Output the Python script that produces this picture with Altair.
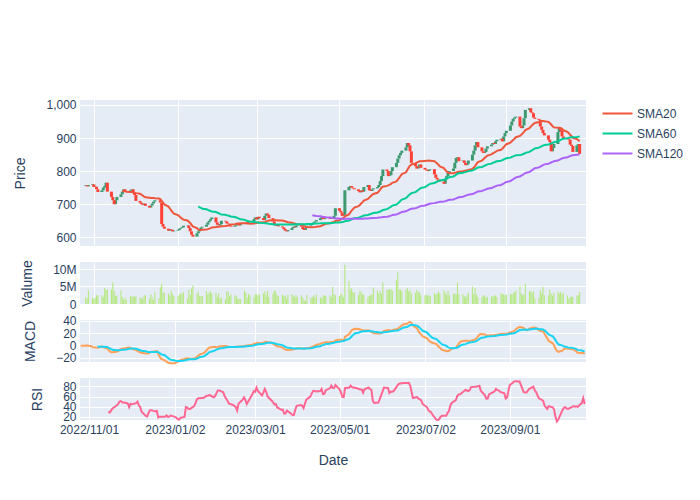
import altair as alt
import pandas as pd

# ---------------- data ----------------
start_date = "2022-10-26"
end_date = "2023-10-25"
first_open = 755

close = [
    757, 754, 758,
    760, 752, 753, 745, 737,
    742, 750, 755, 765, 738,
    722, 712, 700, 712, 722,
    730, 738, 745, 740, 738,
    742, 745, 735, 728, 710,
    705, 700, 698, 702, 695,
    690, 696, 702, 708, 712,
    712, 705, 640, 632, 626,
    620, 624, 622, 618, 620,
    622, 626, 628, 630, 635,
    636, 628, 618, 608, 602,
    612, 618, 625, 630, 632,
    638, 645, 650, 655, 660,
    645, 638, 636, 640, 650,
    648, 642, 640, 635, 632,
    635, 638, 640, 636, 640,
    642, 645, 643, 646, 648,
    655, 660, 654, 662, 658,
    652, 665, 672, 668, 658,
    648, 640, 635, 638, 633,
    630, 625, 620, 618, 622,
    628, 632, 630, 636, 638,
    632, 625, 622, 628, 635,
    638, 640, 645, 648, 652,
    658, 662, 655, 658, 660,
    656, 660, 658, 665, 688,
    680, 675, 665, 668, 742,
    752, 755, 750, 748, 745,
    740, 736, 742, 738, 752,
    758, 742, 740, 745, 748,
    752, 758, 770, 785, 805,
    800, 785, 788, 800, 812,
    825, 838, 848, 855, 862,
    872, 885, 878, 860, 825,
    815, 808, 815, 820, 810,
    805, 802, 800, 805, 806,
    790, 780, 775, 770, 768,
    762, 775, 785, 795, 800,
    808, 825, 840, 842, 830,
    832, 825, 818, 822, 832,
    850, 862, 878, 888, 872,
    860, 855, 858, 868, 875,
    880, 885, 882, 890, 895,
    898, 890, 905, 915, 922,
    938, 950, 958, 962, 965,
    935, 930, 938, 960, 985,
    990, 978, 975, 962, 958,
    955, 935, 925, 915, 908,
    895, 888, 860, 870, 882,
    918, 930, 922, 905, 898,
    898, 895, 880, 876, 858,
    878, 882, 852,
]

# volume in millions, first half (Oct 26 - Apr 21)
volume_a = [
    1.9, 1.6, 3.9, 1.8, 1.4, 1.8, 2.5, 2.5, 2.5, 2.0,
    4.6, 3.9, 4.1, 4.2, 6.2, 3.8, 2.3, 2.4, 3.9, 2.0,
    1.25, 1.8, 1.25, 2.4, 2.1, 2.2, 2.0, 2.3, 1.8, 1.8,
    1.4, 2.5, 2.5, 1.6, 2.8, 2.0, 1.1, 3.6, 1.7, 4.8,
    5.8, 3.2, 3.2, 3.0, 2.4, 3.8, 2.8, 2.2, 2.2, 2.7,
    3.1, 2.8, 3.4, 1.6, 3.9, 2.6, 4.4, 5.3, 2.9, 3.6,
    2.2, 2.2, 2.3, 3.75, 2.8, 3.2, 3.65, 3.0, 3.2, 2.1,
    3.1, 1.6, 1.8, 1.35, 3.6, 3.5, 2.2, 2.8, 2.5, 2.3,
    1.5, 1.5, 1.4, 3.75, 3.2, 1.9, 2.9, 2.5, 1.9, 2.8,
    2.8, 2.4, 2.8, 3.0, 3.6, 2.6, 3.75, 2.0, 2.9, 3.9,
    3.5, 2.6, 2.3, 2.8, 2.2, 2.4, 1.5, 2.6, 2.8, 2.4,
    2.0, 2.6, 2.0, 2.4, 1.8, 1.15, 0.8, 2.6, 1.8, 1.9,
    2.5, 1.8, 2.8, 1.9, 1.6, 2.6, 2.4, 2.3,
]
# second half (Apr 24 - Oct 25)
volume_b = [
    2.4, 2.0, 4.9, 2.8, 2.5, 2.3, 3.1, 2.6, 1.9, 11.25,
    6.5, 4.0, 4.6, 3.4, 3.2, 2.5, 3.65, 3.5, 2.8, 2.6,
    1.9, 2.3, 2.6, 2.8, 4.7, 3.8, 3.0, 3.65, 2.9, 6.2,
    3.9, 4.2, 4.2, 4.3, 3.8, 6.8, 9.0, 4.2, 4.1, 3.75,
    4.0, 4.6, 3.6, 3.9, 3.0, 3.2, 4.1, 3.6, 3.3, 2.5,
    2.5, 2.5, 2.5, 2.4, 2.3, 3.1, 2.7, 2.9, 3.5, 3.0,
    3.9, 3.2, 2.6, 3.8, 2.5, 3.0, 2.9, 2.8, 6.1, 2.8,
    2.8, 2.3, 1.8, 2.4, 3.3, 5.0, 2.8, 4.6, 2.7, 1.9,
    1.9, 2.4, 2.4, 1.8, 2.0, 2.2, 2.1, 2.3, 2.5, 2.0,
    3.1, 2.8, 2.7, 2.5, 2.7, 2.9, 2.7, 3.0, 3.4, 3.8,
    5.0, 3.0, 2.5, 2.8, 5.8, 3.6, 3.75, 3.2, 3.6, 1.6,
    1.8, 4.0, 3.1, 4.9, 2.5, 2.4, 4.1, 2.9, 2.4, 3.3,
    3.5, 3.0, 3.5, 2.8, 3.2, 2.4, 1.5, 2.1, 2.1, 2.1,
    2.4, 2.5, 3.5,
]

sma_names = ["SMA20", "SMA60", "SMA120"]
sma_windows = [20, 60, 120]
sma_colors = ["#EF553B", "#00CC96", "#AB63FA"]

tick_dates = [(2022, 11, 1), (2023, 1, 2), (2023, 3, 1), (2023, 5, 1), (2023, 7, 2), (2023, 9, 1)]
price_ticks = [600, 700, 800, 900, 1000]
volume_ticks = [0, 5e6, 10e6]
macd_ticks = [-20, 0, 20, 40]
rsi_ticks = [20, 40, 60, 80]

# ---------------- table ----------------
dates = pd.bdate_range(start_date, end_date)
n = min(len(dates), len(close), len(volume_a) + len(volume_b))
volume = [v * 1e6 for v in (volume_a + volume_b)]
opens = [first_open] + close[:-1]
df = pd.DataFrame({
    "date": [d.strftime("%Y-%m-%d") for d in dates[:n]],
    "open": opens[:n],
    "close": close[:n],
    "volume": volume[:n],
})
cs = df["close"].astype(float)
for name, w in zip(sma_names, sma_windows):
    df[name] = cs.rolling(w).mean()
ema12 = cs.ewm(span=12, adjust=False).mean()
ema26 = cs.ewm(span=26, adjust=False).mean()
df["macd"] = ema12 - ema26
df["signal"] = df["macd"].ewm(span=9, adjust=False, min_periods=9).mean()
delta = cs.diff()
gain = delta.clip(lower=0).rolling(14).mean()
loss = (-delta.clip(upper=0)).rolling(14).mean()
df["rsi"] = 100 - 100 / (1 + gain / loss)

sma_long = df.melt(id_vars=["date"], value_vars=sma_names, var_name="series", value_name="value").dropna()
macd_df = df[["date", "macd"]].dropna()
signal_df = df[["date", "signal"]].dropna()
rsi_df = df[["date", "rsi"]].dropna()

# ---------------- chart ----------------
W = 506
x_scale = alt.Scale(type="utc", domain=[
    alt.DateTime(year=2022, month=10, date=25, hours=12, utc=True),
    alt.DateTime(year=2023, month=10, date=26, utc=True),
])
tick_vals = [alt.DateTime(year=y, month=m, date=d, utc=True) for (y, m, d) in tick_dates]


def xenc(show):
    if show:
        ax = alt.Axis(values=tick_vals, format="%Y/%m/%d", labelAngle=0, title="Date",
                      titlePadding=18, labelPadding=4, labelFlush=False, labelOverlap=False)
    else:
        ax = alt.Axis(values=tick_vals, labels=False, title=None)
    return alt.X("date:T", scale=x_scale, axis=ax)


price_scale = alt.Scale(domain=[573.7, 1015], nice=False, zero=False)
price_axis = alt.Axis(values=price_ticks, format=",d", title="Price", labelOverlap=False)
macd_scale = alt.Scale(domain=[-26.5, 41.6], nice=False, zero=False)
macd_axis = alt.Axis(values=macd_ticks, format="d", title="MACD", labelOverlap=False)

base = alt.Chart(df)
up = base.transform_filter("datum.close >= datum.open").mark_bar(size=3, color="#3D9970").encode(
    x=xenc(False),
    y=alt.Y("open:Q", scale=price_scale, axis=price_axis),
    y2="close:Q",
)
down = base.transform_filter("datum.close < datum.open").mark_bar(size=3, color="#FF4136").encode(
    x=xenc(False),
    y=alt.Y("open:Q", scale=price_scale, axis=price_axis),
    y2="close:Q",
)
smas = alt.Chart(sma_long).mark_line(strokeWidth=2).encode(
    x=xenc(False),
    y=alt.Y("value:Q", scale=price_scale, axis=price_axis),
    color=alt.Color("series:N", scale=alt.Scale(domain=sma_names, range=sma_colors),
                    legend=alt.Legend(title=None, orient="none", legendX=529, legendY=5)),
)
price = alt.layer(up, down, smas).properties(width=W, height=146)

vol = base.mark_bar(size=1.1, color="#B6E880").encode(
    x=xenc(False),
    y=alt.Y("volume:Q", scale=alt.Scale(domain=[0, 12e6], nice=False),
            axis=alt.Axis(values=volume_ticks, title="Valume",
                          labelExpr="datum.value == 0 ? '0' : format(datum.value / 1000000, 'd') + 'M'")),
).properties(width=W, height=42)

macd_line = alt.Chart(macd_df).mark_line(strokeWidth=2, color="#FFA15A").encode(
    x=xenc(False),
    y=alt.Y("macd:Q", scale=macd_scale, axis=macd_axis),
)
signal_line = alt.Chart(signal_df).mark_line(strokeWidth=2, color="#19D3F3").encode(
    x=xenc(False),
    y=alt.Y("signal:Q", scale=macd_scale, axis=macd_axis),
)
macd = alt.layer(macd_line, signal_line).properties(width=W, height=42)

rsi = alt.Chart(rsi_df).mark_line(strokeWidth=2, color="#FF6692").encode(
    x=xenc(True),
    y=alt.Y("rsi:Q", scale=alt.Scale(domain=[13.4, 96.8], nice=False, zero=False),
            axis=alt.Axis(values=rsi_ticks, format="d", title="RSI")),
).properties(width=W, height=42)

FONT = "Liberation Sans, Arial, sans-serif"
chart = alt.vconcat(price, vol, macd, rsi, spacing=16, bounds="flush").properties(
    padding={"left": 5, "top": 90, "right": 5, "bottom": 5},
    background="white",
).configure_view(
    fill="#E5ECF6", strokeWidth=0,
).configure_axis(
    labelFont=FONT, labelFontSize=12, labelColor="#2a3f5f",
    titleFont=FONT, titleFontSize=14, titleColor="#2a3f5f", titleFontWeight="normal",
    gridColor="white", gridWidth=1, domain=False, ticks=False, tickSize=0,
    labelPadding=4, labelOverlap=False,
).configure_axisY(
    titlePadding=18,
).configure_legend(
    symbolType="M-2,0H2", symbolSize=225, symbolStrokeWidth=2,
    labelFont=FONT, labelFontSize=12, labelColor="#2a3f5f", labelOffset=11,
    rowPadding=5, padding=0,
)

chart.save("out.html", embed_options={"renderer": "svg", "actions": False})
